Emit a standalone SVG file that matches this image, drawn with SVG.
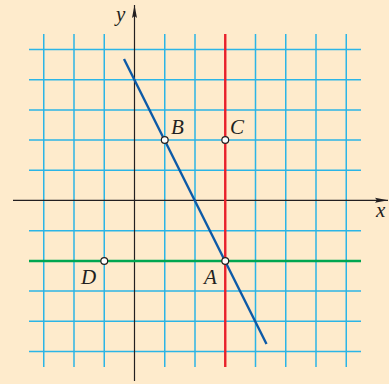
<svg xmlns="http://www.w3.org/2000/svg" width="389" height="384" viewBox="0 0 389 384">
<style>
.grid line{stroke:#2bb5e6;stroke-width:1.5}
.axis{stroke:#231f20;stroke-width:1.2}
.lbl{font-family:"Liberation Serif","Times New Roman",serif;font-style:italic;font-size:21px;fill:#231f20}
.pt{fill:#ffffff;stroke:#231f20;stroke-width:1.2}
</style>
<defs>
<marker id="ah" markerWidth="14" markerHeight="6" refX="13" refY="3" orient="auto" markerUnits="userSpaceOnUse">
<path d="M0,0.5 L13,3 L0,5.5 L2,3 Z" fill="#231f20"/>
</marker>
</defs>
<rect width="389" height="384" fill="#feebcc"/>
<g id="grid" class="grid">
<line x1="43.75" y1="34" x2="43.75" y2="367"/>
<line x1="74" y1="34" x2="74" y2="367"/>
<line x1="104.25" y1="34" x2="104.25" y2="367"/>
<line x1="164.75" y1="34" x2="164.75" y2="367"/>
<line x1="195" y1="34" x2="195" y2="367"/>
<line x1="255.5" y1="34" x2="255.5" y2="367"/>
<line x1="285.75" y1="34" x2="285.75" y2="367"/>
<line x1="316" y1="34" x2="316" y2="367"/>
<line x1="346.25" y1="34" x2="346.25" y2="367"/>
<line x1="29" y1="49.6" x2="361" y2="49.6"/>
<line x1="29" y1="79.8" x2="361" y2="79.8"/>
<line x1="29" y1="109.9" x2="361" y2="109.9"/>
<line x1="29" y1="140" x2="361" y2="140"/>
<line x1="29" y1="170.2" x2="361" y2="170.2"/>
<line x1="29" y1="230.7" x2="361" y2="230.7"/>
<line x1="29" y1="291" x2="361" y2="291"/>
<line x1="29" y1="321.2" x2="361" y2="321.2"/>
<line x1="29" y1="351.4" x2="361" y2="351.4"/>
</g>
<g id="axes">
<line class="axis" x1="13" y1="200.3" x2="388" y2="200.3" marker-end="url(#ah)"/>
<line class="axis" x1="134.5" y1="381" x2="134.5" y2="5" marker-end="url(#ah)"/>
<text class="lbl" x="116" y="21">y</text>
<text class="lbl" x="376" y="217">x</text>
</g>
<g id="connectors">
<line id="line-red" x1="225.25" y1="34" x2="225.25" y2="367" stroke="#e8212b" stroke-width="2.4"/>
<line id="line-green" x1="29" y1="261" x2="361" y2="261" stroke="#00a651" stroke-width="2.4"/>
<line id="line-blue" x1="124" y1="59" x2="266.5" y2="344" stroke="#0d5aa7" stroke-width="2.4"/>
</g>
<g id="B"><circle class="pt" cx="164.75" cy="140" r="3.4"/><text class="lbl" x="171" y="134">B</text></g>
<g id="C"><circle class="pt" cx="225.25" cy="140" r="3.4"/><text class="lbl" x="230" y="134">C</text></g>
<g id="A"><circle class="pt" cx="225.25" cy="261" r="3.4"/><text class="lbl" x="204" y="284">A</text></g>
<g id="D"><circle class="pt" cx="104.25" cy="261" r="3.4"/><text class="lbl" x="81" y="284">D</text></g>
</svg>
